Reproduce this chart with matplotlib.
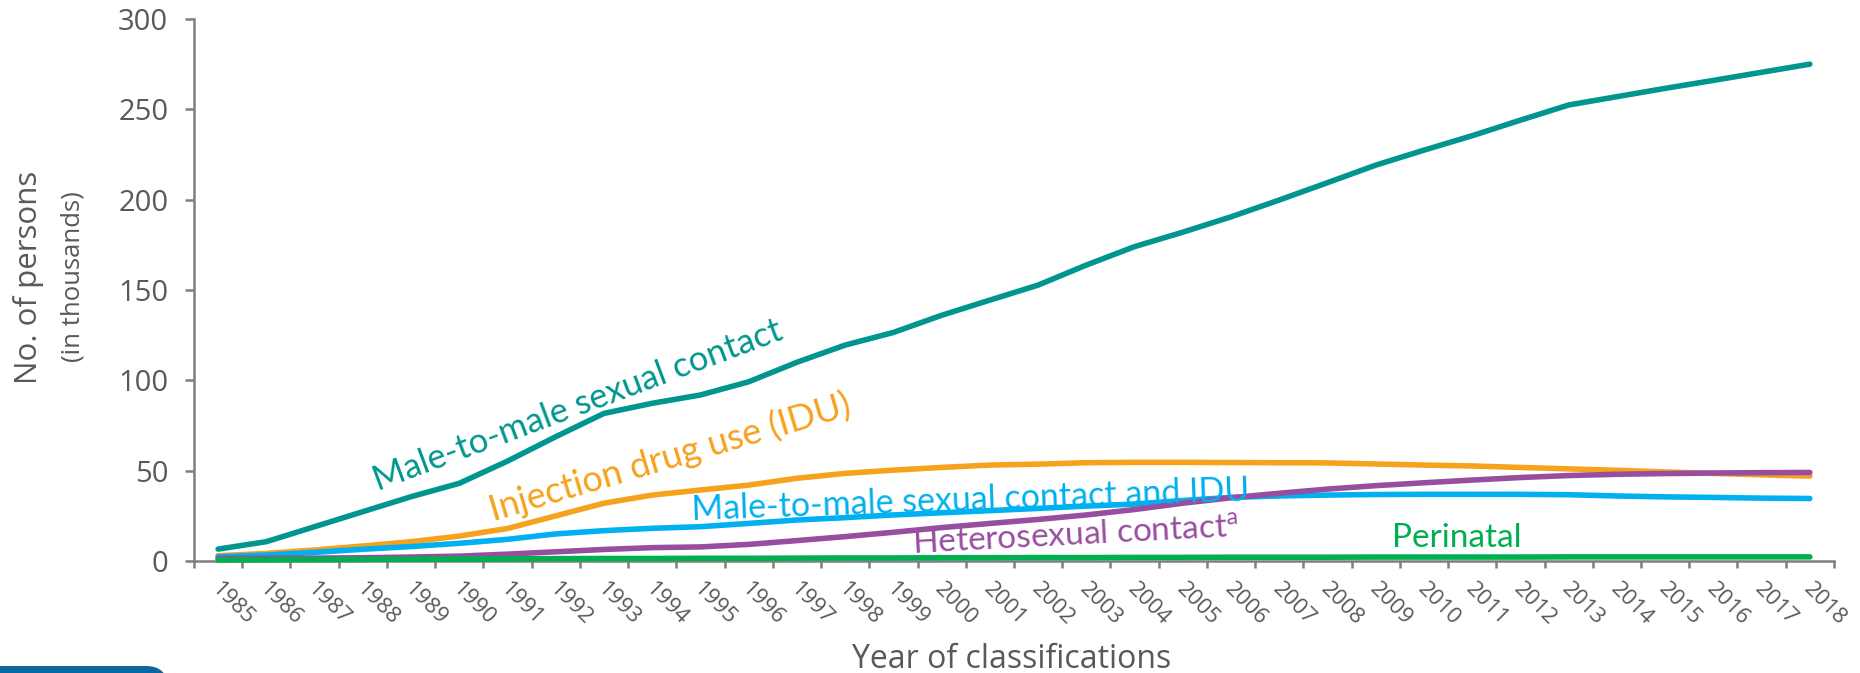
import matplotlib.pyplot as plt
from matplotlib.patches import FancyBboxPatch
from matplotlib.transforms import ScaledTranslation
import numpy as np

years = list(range(1985, 2019))

# persons (thousands) by transmission category
msm = [6.6, 10.7, 19.0, 27.3, 35.6, 43.0, 55.3, 68.8, 81.7, 87.3,
       91.9, 99.2, 110.0, 119.5, 126.5, 136.0, 144.4, 152.7, 163.8, 174.0,
       182.0, 190.5, 199.8, 209.4, 219.1, 227.4, 235.4, 244.0, 252.4, 257.0,
       261.6, 266.0, 270.5, 275.0]
idu = [2.9, 4.2, 6.1, 8.3, 10.7, 13.8, 18.0, 25.0, 32.0, 36.5,
       39.3, 42.0, 45.8, 48.5, 50.3, 51.8, 53.1, 53.6, 54.4, 54.6,
       54.6, 54.5, 54.4, 54.3, 53.7, 53.1, 52.6, 51.8, 51.0, 50.2,
       49.3, 48.5, 47.7, 47.0]
msm_idu = [2.4, 3.3, 4.8, 6.5, 8.0, 9.8, 12.0, 15.0, 16.8, 18.1,
           19.0, 20.8, 22.7, 24.0, 25.5, 26.7, 27.9, 29.1, 30.4, 31.5,
           33.5, 35.2, 36.0, 36.5, 36.8, 36.9, 36.9, 36.9, 36.7, 36.0,
           35.5, 35.2, 34.8, 34.6]
hetero = [1.5, 1.5, 1.6, 1.8, 2.2, 2.7, 3.8, 5.1, 6.4, 7.4,
          7.8, 9.2, 11.3, 13.5, 15.9, 18.5, 20.8, 23.0, 25.5, 28.5,
          32.0, 35.0, 37.5, 39.8, 41.7, 43.3, 44.8, 46.2, 47.3, 48.0,
          48.4, 48.7, 48.9, 49.0]
perinatal = [0.6, 0.7, 0.8, 0.9, 1.0, 1.1, 1.2, 1.3, 1.4, 1.4,
             1.5, 1.5, 1.6, 1.7, 1.7, 1.8, 1.8, 1.9, 1.9, 2.0,
             2.0, 2.1, 2.1, 2.1, 2.2, 2.2, 2.2, 2.2, 2.3, 2.3,
             2.3, 2.3, 2.3, 2.3]

yticks = [0, 50, 100, 150, 200, 250, 300]

TEAL = '#00968f'
ORANGE = '#f6a21d'
BLUE = '#00b0f0'
PURPLE = '#984ea0'
GREEN = '#00b050'
AXIS = '#7f7f7f'
TXT = '#595959'

plt.rcParams['mathtext.default'] = 'regular'

fig = plt.figure(figsize=(18.6, 6.73), dpi=100)
ax = fig.add_axes([0.1043, 0.1664, 0.8817, 0.8054])

x = np.arange(len(years))
series = [
    (msm, TEAL),
    (idu, ORANGE),
    (msm_idu, BLUE),
    (hetero, PURPLE),
    (perinatal, GREEN),
]
for vals, col in series:
    ax.plot(x, vals, color=col, lw=4.0, solid_capstyle='round',
            solid_joinstyle='round', zorder=3, clip_on=False)

ax.set_xlim(-0.5, len(years) - 0.5)
ax.set_ylim(0, 300)

for s in ['top', 'right']:
    ax.spines[s].set_visible(False)
for s in ['left', 'bottom']:
    ax.spines[s].set_color(AXIS)
    ax.spines[s].set_linewidth(1.8)

ax.set_yticks(yticks)
ax.set_yticklabels([str(v) for v in yticks], fontfamily='Open Sans',
                   fontsize=21, color=TXT)
ax.tick_params(axis='y', length=6.5, width=1.8, color=AXIS, pad=12)

ax.set_xticks(x)
ax.set_xticklabels([str(y) for y in years], fontfamily='Open Sans',
                   fontsize=16, color=TXT, rotation=-45, ha='left',
                   va='top', rotation_mode='anchor')
ax.tick_params(axis='x', which='major', length=0, pad=13)
shift = ScaledTranslation(4 / 100, 0, fig.dpi_scale_trans)
for t in ax.get_xticklabels():
    t.set_transform(t.get_transform() + shift)
ax.set_xticks(np.arange(-0.5, len(years)), minor=True)
ax.tick_params(axis='x', which='minor', length=5, width=1.8, color=AXIS)

# series labels
lab = dict(fontfamily='Lato', ha='left', va='baseline',
           rotation_mode='anchor')
ax.text(3.32, 38.5, 'Male-to-male sexual contact', color=TEAL,
        rotation=20.5, fontsize=25, **lab)
ax.text(5.7, 22.0, 'Injection drug use (IDU)', color=ORANGE,
        rotation=16.5, fontsize=26, **lab)
ax.text(9.82, 22.6, 'Male-to-male sexual contact and IDU', color=BLUE,
        rotation=2, fontsize=24.5, **lab)
ax.text(14.4, 4.3, 'Heterosexual contact$^{a}$', color=PURPLE,
        rotation=3, fontsize=24, **lab)
ax.text(24.33, 7.9, 'Perinatal', color=GREEN, rotation=0, fontsize=24,
        **lab)

# axis titles
fig.text(29 / 1860, 1 - 277 / 673, 'No. of persons', rotation=90,
         ha='center', va='center', fontfamily='Open Sans', fontsize=22.5,
         color=TXT)
fig.text(72.5 / 1860, 1 - 277 / 673, '(in thousands)', rotation=90,
         ha='center', va='center', fontfamily='Open Sans', fontsize=18.5,
         color=TXT)
fig.text(1012 / 1860, 1 - 668 / 673, 'Year of classifications',
         ha='center', va='baseline', fontfamily='Open Sans', fontsize=23,
         color=TXT)

# slide tab in the lower left corner
tab = FancyBboxPatch((-20 / 1860, -30 / 673), 188 / 1860, 37 / 673,
                     boxstyle='round,pad=0,rounding_size=0.012',
                     transform=fig.transFigure, facecolor='#0b679f',
                     edgecolor='none', mutation_aspect=1860 / 673)
fig.patches.append(tab)

fig.savefig('out.png', dpi=100)
